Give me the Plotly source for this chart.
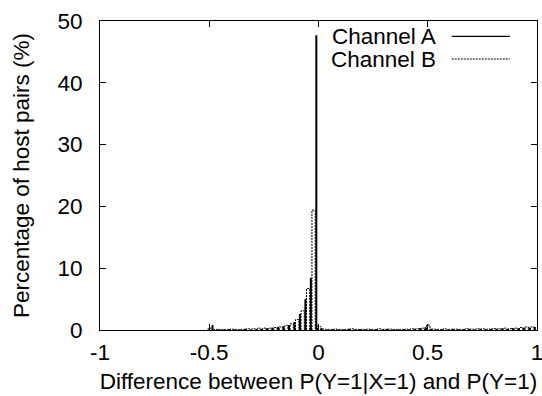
import plotly.graph_objects as go

# bin index 0..79, bin width 0.025
n_bins = 80
bin_width = 0.025
a_start = -0.985
b_start = -0.9975

channel_a = ([0.0] * 20 +
             [0.8, 0.1, 0.1, 0.15, 0.1, 0.1, 0.2, 0.1, 0.15, 0.2,
              0.3, 0.4, 0.5, 0.6, 0.8, 1.3, 2.6, 5.0, 8.4, 47.7,
              0.3, 0.1, 0.15, 0.1, 0.1, 0.2, 0.1, 0.15, 0.1, 0.1,
              0.15, 0.1, 0.2, 0.1, 0.1, 0.15, 0.1, 0.2, 0.3, 0.45,
              0.2, 0.1, 0.15, 0.1, 0.2, 0.1, 0.15, 0.2, 0.1, 0.2,
              0.15, 0.2, 0.2, 0.25, 0.2, 0.3, 0.3, 0.4, 0.4, 0.5])
channel_b = ([0.0] * 20 +
             [0.3, 0.1, 0.1, 0.1, 0.15, 0.1, 0.1, 0.2, 0.2, 0.3,
              0.3, 0.3, 0.4, 0.5, 0.7, 1.0, 1.7, 3.1, 6.7, 19.4,
              0.6, 0.15, 0.1, 0.15, 0.1, 0.1, 0.2, 0.1, 0.1, 0.15,
              0.1, 0.2, 0.1, 0.15, 0.1, 0.1, 0.15, 0.2, 0.2, 0.3,
              0.8, 0.15, 0.1, 0.2, 0.1, 0.15, 0.1, 0.2, 0.15, 0.2,
              0.2, 0.15, 0.25, 0.2, 0.3, 0.25, 0.3, 0.4, 0.5, 0.5])

x_ticks = [-1, -0.5, 0, 0.5, 1]
x_tick_labels = ["-1", "-0.5", "0", "0.5", "1"]
y_ticks = [0, 10, 20, 30, 40, 50]
y_tick_labels = ["0", "10", "20", "30", "40", "50"]

# Channel A: impulses
ax, ay = [], []
for k, v in enumerate(channel_a):
    if v > 0:
        c = a_start + bin_width * k
        ax += [c, c, None]
        ay += [0, v, None]

# Channel B: dashed box outlines
half = 0.0075
bx, by = [], []
for k, v in enumerate(channel_b):
    if v > 0:
        c = b_start + bin_width * k
        bx += [c - half, c - half, c + half, c + half, None]
        by += [0, v, v, 0, None]

fig = go.Figure()
fig.add_trace(go.Scatter(x=bx, y=by, mode="lines", name="Channel B",
                         line=dict(color="black", width=1, dash="2px,1px"),
                         showlegend=False, hoverinfo="skip"))
fig.add_trace(go.Scatter(x=ax, y=ay, mode="lines", name="Channel A",
                         line=dict(color="black", width=2),
                         showlegend=False, hoverinfo="skip"))

font_family = "Liberation Sans, Arial, Helvetica, sans-serif"
fs = 22.5

fig.update_layout(
    width=542, height=396,
    margin=dict(l=100, r=5, t=21, b=66),
    paper_bgcolor="white", plot_bgcolor="white",
    font=dict(family=font_family, size=fs, color="black"),
    showlegend=False,
)
fig.update_xaxes(
    range=[-1, 1], tickvals=x_ticks, ticktext=x_tick_labels,
    showgrid=False, zeroline=False, automargin=False,
    showline=True, linecolor="black", linewidth=1, mirror="ticks",
    ticks="inside", ticklen=6, tickcolor="black",
    ticklabelstandoff=2, ticklabeloverflow="allow",
    title=dict(text="Difference between P(Y=1|X=1) and P(Y=1)",
               font=dict(size=fs), standoff=9),
)
fig.update_yaxes(
    range=[0, 50], tickvals=y_ticks, ticktext=y_tick_labels,
    showgrid=False, zeroline=False, automargin=False,
    showline=True, linecolor="black", linewidth=1, mirror="ticks",
    ticks="inside", ticklen=6, tickcolor="black",
    ticklabelstandoff=12, ticklabeloverflow="allow",
    title=dict(text="Percentage of host pairs (%)", font=dict(size=fs), standoff=21),
)

# Gnuplot-style key: text left, sample right
legend_items = [("Channel A", "solid", 1.2), ("Channel B", "2px,1px", 1)]
key_y = [0.95, 0.877]
for (label, dash, w), yy in zip(legend_items, key_y):
    fig.add_annotation(x=0.773, y=yy, xref="paper", yref="paper",
                       text=label, showarrow=False, xanchor="right", yanchor="middle",
                       font=dict(size=fs))
    fig.add_shape(type="line", xref="paper", yref="paper",
                  x0=0.805, x1=0.938, y0=yy, y1=yy,
                  line=dict(color="black", width=w, dash=dash))

fig.write_html("out.html", config={"displayModeBar": False},
               post_script="document.body.style.margin='0';document.body.style.overflow='hidden';")
